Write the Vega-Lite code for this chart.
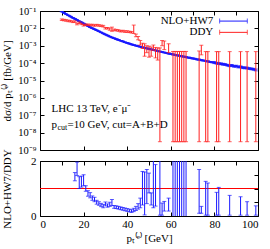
{
  "$schema": "https://vega.github.io/schema/vega-lite/v6.json",
  "padding": {"left": 0, "top": 5, "right": 11, "bottom": 0},
  "spacing": -8,
  "config": {
    "font": "Liberation Serif",
    "view": {"stroke": "black", "strokeWidth": 1},
    "axis": {"domain": false, "grid": false, "tickColor": "black", "tickSize": -4, "minExtent": 0, "labelColor": "black", "labelFont": "Liberation Serif", "labelFontSize": 11, "titleFont": "Liberation Serif", "titleFontSize": 11, "titleFontWeight": "normal", "titleColor": "black", "labelPadding": 8},
    "tick": {"orient": "horizontal", "thickness": 1},
    "text": {"font": "Liberation Serif", "fontSize": 11, "color": "black"}
  },
  "datasets": {
    "nlo": [
      {"pt": 10, "y": 0.0912, "lo": 0.0885, "hi": 0.0939},
      {"pt": 11, "y": 0.0776, "lo": 0.0753, "hi": 0.0799},
      {"pt": 12, "y": 0.0661, "lo": 0.0641, "hi": 0.0681},
      {"pt": 13, "y": 0.0562, "lo": 0.0545, "hi": 0.0579},
      {"pt": 14, "y": 0.0479, "lo": 0.0465, "hi": 0.0493},
      {"pt": 15, "y": 0.0407, "lo": 0.0395, "hi": 0.0419},
      {"pt": 16, "y": 0.0355, "lo": 0.0344, "hi": 0.0366},
      {"pt": 17, "y": 0.0302, "lo": 0.0293, "hi": 0.0311},
      {"pt": 18, "y": 0.0257, "lo": 0.0249, "hi": 0.0265},
      {"pt": 19, "y": 0.0224, "lo": 0.0217, "hi": 0.0231},
      {"pt": 20, "y": 0.0191, "lo": 0.0185, "hi": 0.0197},
      {"pt": 21, "y": 0.0162, "lo": 0.0157, "hi": 0.0167},
      {"pt": 22, "y": 0.0138, "lo": 0.0134, "hi": 0.0142},
      {"pt": 23, "y": 0.0117, "lo": 0.0113, "hi": 0.0121},
      {"pt": 24, "y": 0.0102, "lo": 0.0099, "hi": 0.0105},
      {"pt": 25, "y": 0.00891, "lo": 0.00864, "hi": 0.00918},
      {"pt": 26, "y": 0.00776, "lo": 0.00753, "hi": 0.00799},
      {"pt": 27, "y": 0.00676, "lo": 0.00656, "hi": 0.00696},
      {"pt": 28, "y": 0.00589, "lo": 0.00571, "hi": 0.00607},
      {"pt": 29, "y": 0.00513, "lo": 0.00498, "hi": 0.00528},
      {"pt": 30, "y": 0.00447, "lo": 0.00434, "hi": 0.0046},
      {"pt": 31, "y": 0.00389, "lo": 0.00377, "hi": 0.00401},
      {"pt": 32, "y": 0.00339, "lo": 0.00329, "hi": 0.00349},
      {"pt": 33, "y": 0.00302, "lo": 0.00293, "hi": 0.00311},
      {"pt": 34, "y": 0.00269, "lo": 0.00261, "hi": 0.00277},
      {"pt": 35, "y": 0.0024, "lo": 0.00233, "hi": 0.00247},
      {"pt": 36, "y": 0.00219, "lo": 0.00212, "hi": 0.00226},
      {"pt": 37, "y": 0.00195, "lo": 0.00189, "hi": 0.00201},
      {"pt": 38, "y": 0.00178, "lo": 0.00173, "hi": 0.00183},
      {"pt": 39, "y": 0.00158, "lo": 0.00153, "hi": 0.00163},
      {"pt": 40, "y": 0.00145, "lo": 0.00141, "hi": 0.00149},
      {"pt": 41, "y": 0.00132, "lo": 0.00128, "hi": 0.00136},
      {"pt": 42, "y": 0.0012, "lo": 0.00116, "hi": 0.00124},
      {"pt": 43, "y": 0.0011, "lo": 0.00107, "hi": 0.00113},
      {"pt": 44, "y": 0.00102, "lo": 0.00099, "hi": 0.00105},
      {"pt": 45, "y": 0.000955, "lo": 0.000926, "hi": 0.000984},
      {"pt": 46, "y": 0.000871, "lo": 0.000845, "hi": 0.000897},
      {"pt": 47, "y": 0.000813, "lo": 0.000789, "hi": 0.000837},
      {"pt": 48, "y": 0.000759, "lo": 0.000736, "hi": 0.000782},
      {"pt": 49, "y": 0.000708, "lo": 0.000687, "hi": 0.000729},
      {"pt": 50, "y": 0.000661, "lo": 0.000641, "hi": 0.000681},
      {"pt": 51, "y": 0.000617, "lo": 0.000598, "hi": 0.000636},
      {"pt": 52, "y": 0.000575, "lo": 0.000558, "hi": 0.000592},
      {"pt": 53, "y": 0.000537, "lo": 0.000521, "hi": 0.000553},
      {"pt": 54, "y": 0.000501, "lo": 0.000486, "hi": 0.000516},
      {"pt": 55, "y": 0.000468, "lo": 0.000454, "hi": 0.000482},
      {"pt": 56, "y": 0.000437, "lo": 0.000424, "hi": 0.00045},
      {"pt": 57, "y": 0.000407, "lo": 0.000395, "hi": 0.000419},
      {"pt": 58, "y": 0.00038, "lo": 0.000369, "hi": 0.000391},
      {"pt": 59, "y": 0.000355, "lo": 0.000344, "hi": 0.000366},
      {"pt": 60, "y": 0.000339, "lo": 0.000319, "hi": 0.000359},
      {"pt": 61, "y": 0.000316, "lo": 0.000297, "hi": 0.000335},
      {"pt": 62, "y": 0.000295, "lo": 0.000277, "hi": 0.000313},
      {"pt": 63, "y": 0.000282, "lo": 0.000265, "hi": 0.000299},
      {"pt": 64, "y": 0.000263, "lo": 0.000247, "hi": 0.000279},
      {"pt": 65, "y": 0.000251, "lo": 0.000236, "hi": 0.000266},
      {"pt": 66, "y": 0.000234, "lo": 0.00022, "hi": 0.000248},
      {"pt": 67, "y": 0.000224, "lo": 0.000211, "hi": 0.000237},
      {"pt": 68, "y": 0.000209, "lo": 0.000196, "hi": 0.000222},
      {"pt": 69, "y": 0.0002, "lo": 0.000188, "hi": 0.000212},
      {"pt": 70, "y": 0.000186, "lo": 0.000175, "hi": 0.000197},
      {"pt": 71, "y": 0.000178, "lo": 0.000167, "hi": 0.000189},
      {"pt": 72, "y": 0.000166, "lo": 0.000156, "hi": 0.000176},
      {"pt": 73, "y": 0.000158, "lo": 0.000149, "hi": 0.000167},
      {"pt": 74, "y": 0.000148, "lo": 0.000139, "hi": 0.000157},
      {"pt": 75, "y": 0.000141, "lo": 0.000133, "hi": 0.000149},
      {"pt": 76, "y": 0.000132, "lo": 0.000124, "hi": 0.00014},
      {"pt": 77, "y": 0.000126, "lo": 0.000118, "hi": 0.000134},
      {"pt": 78, "y": 0.000117, "lo": 0.00011, "hi": 0.000124},
      {"pt": 79, "y": 0.000112, "lo": 0.000105, "hi": 0.000119},
      {"pt": 80, "y": 0.000107, "lo": 0.0000942, "hi": 0.00012},
      {"pt": 81, "y": 0.0001, "lo": 0.000088, "hi": 0.000112},
      {"pt": 82, "y": 0.0000955, "lo": 0.000084, "hi": 0.000107},
      {"pt": 83, "y": 0.0000912, "lo": 0.0000803, "hi": 0.000102},
      {"pt": 84, "y": 0.0000871, "lo": 0.0000766, "hi": 0.0000976},
      {"pt": 85, "y": 0.0000832, "lo": 0.0000732, "hi": 0.0000932},
      {"pt": 86, "y": 0.0000759, "lo": 0.0000668, "hi": 0.000085},
      {"pt": 87, "y": 0.0000708, "lo": 0.0000623, "hi": 0.0000793},
      {"pt": 88, "y": 0.0000741, "lo": 0.0000652, "hi": 0.000083},
      {"pt": 89, "y": 0.0000661, "lo": 0.0000582, "hi": 0.000074},
      {"pt": 90, "y": 0.0000676, "lo": 0.0000595, "hi": 0.0000757},
      {"pt": 91, "y": 0.0000603, "lo": 0.0000531, "hi": 0.0000675},
      {"pt": 92, "y": 0.0000617, "lo": 0.0000543, "hi": 0.0000691},
      {"pt": 93, "y": 0.000055, "lo": 0.0000484, "hi": 0.0000616},
      {"pt": 94, "y": 0.0000537, "lo": 0.0000473, "hi": 0.0000601},
      {"pt": 95, "y": 0.0000525, "lo": 0.0000462, "hi": 0.0000588},
      {"pt": 96, "y": 0.000049, "lo": 0.0000431, "hi": 0.0000549},
      {"pt": 97, "y": 0.0000468, "lo": 0.0000412, "hi": 0.0000524},
      {"pt": 98, "y": 0.0000447, "lo": 0.0000393, "hi": 0.0000501},
      {"pt": 99, "y": 0.0000407, "lo": 0.0000358, "hi": 0.0000456}
    ],
    "ddy": [
      {"pt": 10, "y": 0.0316, "lo": 0.0284, "hi": 0.0348},
      {"pt": 11, "y": 0.0302, "lo": 0.0272, "hi": 0.0332},
      {"pt": 12, "y": 0.0288, "lo": 0.0259, "hi": 0.0317},
      {"pt": 13, "y": 0.0269, "lo": 0.0242, "hi": 0.0296},
      {"pt": 14, "y": 0.0263, "lo": 0.0237, "hi": 0.0289},
      {"pt": 15, "y": 0.024, "lo": 0.0216, "hi": 0.0264},
      {"pt": 16, "y": 0.0245, "lo": 0.022, "hi": 0.027},
      {"pt": 17, "y": 0.0178, "lo": 0.016, "hi": 0.0196},
      {"pt": 18, "y": 0.0214, "lo": 0.0193, "hi": 0.0235},
      {"pt": 19, "y": 0.0182, "lo": 0.0164, "hi": 0.02},
      {"pt": 20, "y": 0.0151, "lo": 0.0136, "hi": 0.0166},
      {"pt": 21, "y": 0.0162, "lo": 0.0146, "hi": 0.0178},
      {"pt": 22, "y": 0.0162, "lo": 0.0146, "hi": 0.0178},
      {"pt": 23, "y": 0.0155, "lo": 0.014, "hi": 0.0171},
      {"pt": 24, "y": 0.0158, "lo": 0.0142, "hi": 0.0174},
      {"pt": 25, "y": 0.0148, "lo": 0.0133, "hi": 0.0163},
      {"pt": 26, "y": 0.0155, "lo": 0.014, "hi": 0.0171},
      {"pt": 27, "y": 0.0148, "lo": 0.0133, "hi": 0.0163},
      {"pt": 28, "y": 0.0141, "lo": 0.0127, "hi": 0.0155},
      {"pt": 29, "y": 0.0135, "lo": 0.0121, "hi": 0.0149},
      {"pt": 30, "y": 0.0102, "lo": 0.0092, "hi": 0.0112},
      {"pt": 31, "y": 0.0102, "lo": 0.0092, "hi": 0.0112},
      {"pt": 32, "y": 0.0089, "lo": 0.0078, "hi": 0.0104},
      {"pt": 33, "y": 0.0083, "lo": 0.0068, "hi": 0.0118},
      {"pt": 34, "y": 0.00832, "lo": 0.0075, "hi": 0.0092},
      {"pt": 35, "y": 0.00794, "lo": 0.0071, "hi": 0.0087},
      {"pt": 36, "y": 0.00759, "lo": 0.0068, "hi": 0.0084},
      {"pt": 37, "y": 0.00692, "lo": 0.0062, "hi": 0.0076},
      {"pt": 38, "y": 0.00708, "lo": 0.0064, "hi": 0.0078},
      {"pt": 39, "y": 0.00661, "lo": 0.0059, "hi": 0.0073},
      {"pt": 40, "y": 0.00661, "lo": 0.0059, "hi": 0.0073},
      {"pt": 41, "y": 0.00631, "lo": 0.0057, "hi": 0.0069},
      {"pt": 42, "y": 0.00603, "lo": 0.0054, "hi": 0.0066},
      {"pt": 43, "y": 0.0085, "lo": 0.0051, "hi": 0.0155},
      {"pt": 44, "y": 0.00398, "lo": 0.0033, "hi": 0.0047},
      {"pt": 45, "y": 0.00282, "lo": 0.0022, "hi": 0.0034},
      {"pt": 46, "y": 0.0015, "lo": 0.0011, "hi": 0.002},
      {"pt": 47, "y": 0.001, "lo": 0.0007, "hi": 0.0014},
      {"pt": 48, "y": 0.0009, "lo": 0.00025, "hi": 0.0013},
      {"pt": 49, "y": 0.0007, "lo": 0.0004, "hi": 0.001},
      {"pt": 50, "y": 0.0006, "lo": 0.00022, "hi": 0.00095},
      {"pt": 51, "y": 0.00055, "lo": 0.00025, "hi": 0.00085},
      {"pt": 52, "y": 0.0008, "lo": 0.00055, "hi": 0.0011},
      {"pt": 53, "y": 0.0005, "lo": 0.0002, "hi": 0.0008},
      {"pt": 54, "y": 0.00045, "lo": 0.00015, "hi": 0.00075},
      {"pt": 55, "y": 0.0004, "lo": 3e-9, "hi": 0.00075},
      {"pt": 56, "y": 0.0016, "lo": 0.001, "hi": 0.002},
      {"pt": 57, "y": 0.0012, "lo": 0.0006, "hi": 0.00186},
      {"pt": 59, "y": 0.00085, "lo": 0.0004, "hi": 0.0013},
      {"pt": 61, "y": 0.00024, "lo": 3e-9, "hi": 0.00047},
      {"pt": 62, "y": 0.00024, "lo": 3e-9, "hi": 0.00047},
      {"pt": 63, "y": 0.00024, "lo": 3e-9, "hi": 0.00047},
      {"pt": 64, "y": 0.00024, "lo": 3e-9, "hi": 0.00047},
      {"pt": 65, "y": 0.00024, "lo": 3e-9, "hi": 0.00047},
      {"pt": 66, "y": 0.00024, "lo": 3e-9, "hi": 0.00047},
      {"pt": 67, "y": 0.00024, "lo": 3e-9, "hi": 0.00047},
      {"pt": 73, "y": 0.00025, "lo": 3e-9, "hi": 0.0005},
      {"pt": 74, "y": 0.0007, "lo": 0.0003, "hi": 0.00107},
      {"pt": 76, "y": 0.00023, "lo": 3e-9, "hi": 0.00046},
      {"pt": 77, "y": 0.00023, "lo": 3e-9, "hi": 0.00046},
      {"pt": 81, "y": 0.00023, "lo": 3e-9, "hi": 0.00046},
      {"pt": 82, "y": 0.00023, "lo": 3e-9, "hi": 0.00046},
      {"pt": 87, "y": 0.00023, "lo": 3e-9, "hi": 0.00046},
      {"pt": 92, "y": 0.00023, "lo": 3e-9, "hi": 0.00046},
      {"pt": 95, "y": 0.00023, "lo": 3e-9, "hi": 0.00046},
      {"pt": 99, "y": 0.00023, "lo": 3e-9, "hi": 0.00046}
    ],
    "ratio": [
      {"pt": 16, "r": 1.45, "lo": 1.28, "hi": 1.58},
      {"pt": 17, "r": 1.72, "lo": 1.47, "hi": 1.96},
      {"pt": 18, "r": 1.2, "lo": 1.0, "hi": 1.43},
      {"pt": 19, "r": 1.25, "lo": 1.05, "hi": 1.45},
      {"pt": 20, "r": 1.3, "lo": 1.1, "hi": 1.5},
      {"pt": 21, "r": 1.0, "lo": 0.9, "hi": 1.1},
      {"pt": 22, "r": 0.82, "lo": 0.72, "hi": 0.92},
      {"pt": 23, "r": 0.75, "lo": 0.66, "hi": 0.85},
      {"pt": 24, "r": 0.65, "lo": 0.57, "hi": 0.73},
      {"pt": 25, "r": 0.6, "lo": 0.52, "hi": 0.68},
      {"pt": 26, "r": 0.5, "lo": 0.43, "hi": 0.57},
      {"pt": 27, "r": 0.45, "lo": 0.39, "hi": 0.52},
      {"pt": 28, "r": 0.4, "lo": 0.34, "hi": 0.46},
      {"pt": 29, "r": 0.36, "lo": 0.3, "hi": 0.42},
      {"pt": 30, "r": 0.44, "lo": 0.37, "hi": 0.51},
      {"pt": 31, "r": 0.38, "lo": 0.32, "hi": 0.44},
      {"pt": 32, "r": 0.42, "lo": 0.35, "hi": 0.5},
      {"pt": 33, "r": 0.5, "lo": 0.38, "hi": 0.6},
      {"pt": 34, "r": 0.33, "lo": 0.28, "hi": 0.38},
      {"pt": 35, "r": 0.32, "lo": 0.27, "hi": 0.37},
      {"pt": 36, "r": 0.3, "lo": 0.25, "hi": 0.35},
      {"pt": 37, "r": 0.28, "lo": 0.23, "hi": 0.33},
      {"pt": 38, "r": 0.26, "lo": 0.21, "hi": 0.31},
      {"pt": 39, "r": 0.24, "lo": 0.19, "hi": 0.29},
      {"pt": 40, "r": 0.22, "lo": 0.17, "hi": 0.27},
      {"pt": 41, "r": 0.2, "lo": 0.15, "hi": 0.25},
      {"pt": 42, "r": 0.18, "lo": 0.13, "hi": 0.23},
      {"pt": 43, "r": 0.22, "lo": 0.16, "hi": 0.28},
      {"pt": 44, "r": 0.27, "lo": 0.2, "hi": 0.35},
      {"pt": 45, "r": 0.35, "lo": 0.25, "hi": 0.45},
      {"pt": 46, "r": 0.47, "lo": 0.3, "hi": 0.65},
      {"pt": 47, "r": 1.0, "lo": 0.4, "hi": 1.62},
      {"pt": 48, "r": 1.0, "lo": 0.04, "hi": 1.6},
      {"pt": 49, "r": 1.05, "lo": 0.45, "hi": 1.69},
      {"pt": 50, "r": 1.2, "lo": 0.84, "hi": 1.56},
      {"pt": 51, "r": 0.62, "lo": 0.4, "hi": 0.84},
      {"pt": 52, "r": 1.15, "lo": 0.3, "hi": 2.1},
      {"pt": 53, "r": 1.1, "lo": 0.36, "hi": 1.87},
      {"pt": 55, "r": 1.0, "lo": 0.03, "hi": 2.1},
      {"pt": 56, "r": 0.26, "lo": 0.03, "hi": 0.47},
      {"pt": 57, "r": 0.35, "lo": 0.18, "hi": 0.53},
      {"pt": 59, "r": 0.41, "lo": 0.18, "hi": 0.65},
      {"pt": 61, "r": 1.2, "lo": -0.1, "hi": 2.5},
      {"pt": 62, "r": 1.2, "lo": -0.1, "hi": 2.5},
      {"pt": 63, "r": 1.2, "lo": -0.1, "hi": 2.5},
      {"pt": 64, "r": 1.2, "lo": -0.1, "hi": 2.5},
      {"pt": 65, "r": 1.1, "lo": -0.1, "hi": 2.4},
      {"pt": 66, "r": 1.0, "lo": -0.1, "hi": 2.2},
      {"pt": 67, "r": 0.95, "lo": -0.1, "hi": 2.1},
      {"pt": 73, "r": 0.9, "lo": 0.1, "hi": 1.69},
      {"pt": 74, "r": 0.22, "lo": 0.1, "hi": 0.35},
      {"pt": 76, "r": 0.65, "lo": 0.03, "hi": 1.26},
      {"pt": 77, "r": 0.6, "lo": 0.03, "hi": 1.2},
      {"pt": 81, "r": 0.45, "lo": 0.03, "hi": 0.86},
      {"pt": 82, "r": 0.55, "lo": 0.03, "hi": 1.04},
      {"pt": 87, "r": 0.4, "lo": 0.03, "hi": 0.75},
      {"pt": 92, "r": 0.37, "lo": 0.03, "hi": 0.7},
      {"pt": 95, "r": 0.28, "lo": 0.03, "hi": 0.52},
      {"pt": 99, "r": 0.2, "lo": 0.03, "hi": 0.37}
    ]
  },
  "vconcat": [
    {
      "width": 218,
      "height": 139,
      "resolve": {"axis": {"x": "independent", "y": "independent"}},
      "layer": [
        {
          "layer": [
            {
              "data": {"name": "nlo"},
              "mark": {"type": "line", "color": "#1a1aff", "strokeWidth": 2.2, "clip": true},
              "encoding": {
                "x": {"field": "pt", "type": "quantitative", "scale": {"domain": [0, 100], "nice": false}, "axis": {"values": [0, 10, 20, 30, 40, 50, 60, 70, 80, 90, 100], "labels": false, "title": null}},
                "y": {"field": "y", "type": "quantitative", "scale": {"type": "log", "domain": [1e-9, 0.1], "nice": false}, "axis": {"values": [1e-9, 1e-8, 1e-7, 1e-6, 1e-5, 1e-4, 1e-3, 1e-2, 1e-1], "labelFontSize": 10.5, "labelExpr": "'10' + ['','⁻¹','⁻²','⁻³','⁻⁴','⁻⁵','⁻⁶','⁻⁷','⁻⁸','⁻⁹'][round(-log(datum.value)/LN10)]", "title": "dσ/d pₜ⁽ᵉ⁾ [fb/GeV]", "titleX": -33, "titleBaseline": "middle"}}
              }
            },
            {
              "data": {"name": "nlo"},
              "mark": {"type": "rule", "color": "#1a1aff", "clip": true},
              "encoding": {"x": {"field": "pt", "type": "quantitative"}, "y": {"field": "lo", "type": "quantitative"}, "y2": {"field": "hi"}}
            },
            {
              "data": {"name": "nlo"},
              "mark": {"type": "tick", "color": "#1a1aff", "size": 4, "clip": true},
              "encoding": {"x": {"field": "pt", "type": "quantitative"}, "y": {"field": "lo", "type": "quantitative"}}
            },
            {
              "data": {"name": "nlo"},
              "mark": {"type": "tick", "color": "#1a1aff", "size": 4, "clip": true},
              "encoding": {"x": {"field": "pt", "type": "quantitative"}, "y": {"field": "hi", "type": "quantitative"}}
            },
            {
              "data": {"name": "ddy"},
              "mark": {"type": "rule", "color": "#ff2020", "clip": true},
              "encoding": {"x": {"field": "pt", "type": "quantitative"}, "y": {"field": "lo", "type": "quantitative"}, "y2": {"field": "hi"}}
            },
            {
              "data": {"name": "ddy"},
              "mark": {"type": "tick", "color": "#ff2020", "size": 4, "clip": true},
              "encoding": {"x": {"field": "pt", "type": "quantitative"}, "y": {"field": "lo", "type": "quantitative"}}
            },
            {
              "data": {"name": "ddy"},
              "mark": {"type": "tick", "color": "#ff2020", "size": 4, "clip": true},
              "encoding": {"x": {"field": "pt", "type": "quantitative"}, "y": {"field": "hi", "type": "quantitative"}}
            },
            {
              "data": {"values": [{}]},
              "mark": {"type": "text", "align": "right", "baseline": "middle"},
              "encoding": {"x": {"datum": 79.5, "type": "quantitative"}, "y": {"datum": 0.0263, "type": "quantitative"}, "text": {"value": "NLO+HW7"}}
            },
            {
              "data": {"values": [{}]},
              "mark": {"type": "text", "align": "right", "baseline": "middle"},
              "encoding": {"x": {"datum": 79.5, "type": "quantitative"}, "y": {"datum": 0.0059, "type": "quantitative"}, "text": {"value": "DDY"}}
            },
            {
              "data": {"values": [{}]},
              "mark": {"type": "rule", "color": "#1a1aff"},
              "encoding": {"x": {"datum": 82.4, "type": "quantitative"}, "x2": {"datum": 95.1}, "y": {"datum": 0.0263, "type": "quantitative"}}
            },
            {
              "data": {"values": [{}]},
              "mark": {"type": "tick", "orient": "vertical", "color": "#1a1aff", "size": 5},
              "encoding": {"x": {"datum": 82.4, "type": "quantitative"}, "y": {"datum": 0.0263, "type": "quantitative"}}
            },
            {
              "data": {"values": [{}]},
              "mark": {"type": "tick", "orient": "vertical", "color": "#1a1aff", "size": 5},
              "encoding": {"x": {"datum": 95.1, "type": "quantitative"}, "y": {"datum": 0.0263, "type": "quantitative"}}
            },
            {
              "data": {"values": [{}]},
              "mark": {"type": "rule", "color": "#ff2020"},
              "encoding": {"x": {"datum": 82.4, "type": "quantitative"}, "x2": {"datum": 95.1}, "y": {"datum": 0.0059, "type": "quantitative"}}
            },
            {
              "data": {"values": [{}]},
              "mark": {"type": "tick", "orient": "vertical", "color": "#ff2020", "size": 5},
              "encoding": {"x": {"datum": 82.4, "type": "quantitative"}, "y": {"datum": 0.0059, "type": "quantitative"}}
            },
            {
              "data": {"values": [{}]},
              "mark": {"type": "tick", "orient": "vertical", "color": "#ff2020", "size": 5},
              "encoding": {"x": {"datum": 95.1, "type": "quantitative"}, "y": {"datum": 0.0059, "type": "quantitative"}}
            },
            {
              "data": {"values": [{}]},
              "mark": {"type": "text", "align": "left", "baseline": "middle"},
              "encoding": {"x": {"datum": 5.3, "type": "quantitative"}, "y": {"datum": 2.2e-7, "type": "quantitative"}, "text": {"value": "LHC 13 TeV, e⁻μ⁻"}}
            },
            {
              "data": {"values": [{}]},
              "mark": {"type": "text", "align": "left", "baseline": "middle"},
              "encoding": {"x": {"datum": 5.3, "type": "quantitative"}, "y": {"datum": 2.9e-8, "type": "quantitative"}, "text": {"value": "p"}}
            },
            {
              "data": {"values": [{}]},
              "mark": {"type": "text", "align": "left", "baseline": "middle", "fontSize": 8, "dx": 6, "dy": 3},
              "encoding": {"x": {"datum": 5.3, "type": "quantitative"}, "y": {"datum": 2.9e-8, "type": "quantitative"}, "text": {"value": "cut"}}
            },
            {
              "data": {"values": [{}]},
              "mark": {"type": "text", "align": "left", "baseline": "middle", "dx": 16},
              "encoding": {"x": {"datum": 5.3, "type": "quantitative"}, "y": {"datum": 2.9e-8, "type": "quantitative"}, "text": {"value": "=10 GeV, cut=A+B+D"}}
            }
          ]
        },
        {
          "data": {"values": [{}]},
          "mark": {"type": "point", "opacity": 0},
          "encoding": {
            "x": {"datum": 50, "type": "quantitative", "axis": {"orient": "top", "values": [0, 10, 20, 30, 40, 50, 60, 70, 80, 90, 100], "labels": false, "title": null}},
            "y": {"datum": 0.001, "type": "quantitative", "axis": {"orient": "right", "values": [1e-9, 1e-8, 1e-7, 1e-6, 1e-5, 1e-4, 1e-3, 1e-2, 1e-1], "labels": false, "title": null}}
          }
        }
      ]
    },
    {
      "width": 218,
      "height": 55,
      "resolve": {"axis": {"x": "independent", "y": "independent"}},
      "layer": [
        {
          "layer": [
            {
              "data": {"values": [{}]},
              "mark": {"type": "rule", "stroke": "#ff0000", "color": "#ff0000", "strokeWidth": 1.2},
              "encoding": {
                "y": {"datum": 1, "type": "quantitative", "scale": {"domain": [0, 2], "nice": false}, "axis": {"values": [0, 0.5, 1, 1.5, 2], "title": "NLO+HW7/DDY", "titleX": -33, "titleBaseline": "middle"}}
              }
            },
            {
              "data": {"name": "ratio"},
              "mark": {"type": "rule", "color": "#1a1aff", "clip": true},
              "encoding": {
                "x": {"field": "pt", "type": "quantitative", "scale": {"domain": [0, 100], "nice": false}, "axis": {"values": [0, 10, 20, 30, 40, 50, 60, 70, 80, 90, 100], "title": "pₜ⁽ᵉ⁾ [GeV]", "labelPadding": 6, "titlePadding": 3}},
                "y": {"field": "lo", "type": "quantitative"},
                "y2": {"field": "hi"}
              }
            },
            {
              "data": {"name": "ratio"},
              "mark": {"type": "tick", "color": "#1a1aff", "size": 4, "clip": true},
              "encoding": {"x": {"field": "pt", "type": "quantitative"}, "y": {"field": "lo", "type": "quantitative"}}
            },
            {
              "data": {"name": "ratio"},
              "mark": {"type": "tick", "color": "#1a1aff", "size": 4, "clip": true},
              "encoding": {"x": {"field": "pt", "type": "quantitative"}, "y": {"field": "hi", "type": "quantitative"}}
            }
          ]
        },
        {
          "data": {"values": [{}]},
          "mark": {"type": "point", "opacity": 0},
          "encoding": {
            "x": {"datum": 50, "type": "quantitative", "axis": {"orient": "top", "values": [0, 10, 20, 30, 40, 50, 60, 70, 80, 90, 100], "labels": false, "title": null}},
            "y": {"datum": 1, "type": "quantitative", "axis": {"orient": "right", "values": [0, 0.5, 1, 1.5, 2], "labels": false, "title": null}}
          }
        }
      ]
    }
  ]
}
